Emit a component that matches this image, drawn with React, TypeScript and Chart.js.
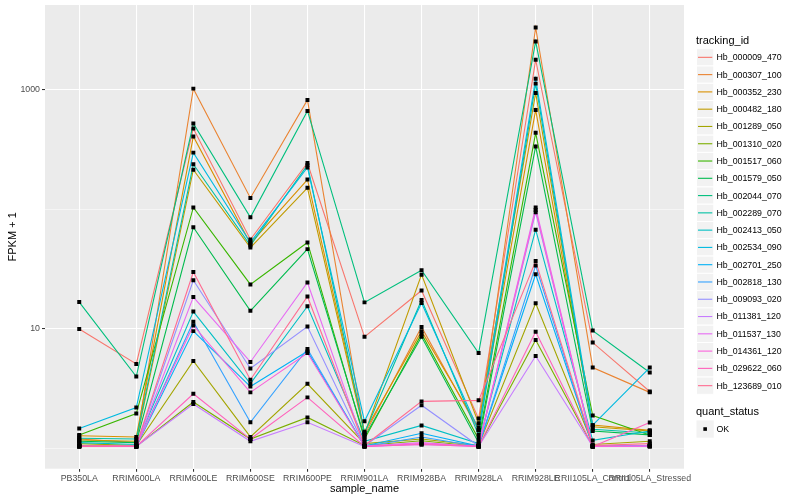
import React, { useEffect, useRef } from "react";
import { Chart, registerables } from "chart.js";
Chart.register(...registerables);

const FONT = '"Liberation Sans", Arial, Helvetica, sans-serif';

const categories = [
  "PB350LA", "RRIM600LA", "RRIM600LE", "RRIM600SE", "RRIM600PE", "RRIM901LA",
  "RRIM928BA", "RRIM928LA", "RRIM928LE", "RRII105LA_Control", "RRII105LA_Stressed",
];

const trackingIds = [
  "Hb_000009_470", "Hb_000307_100", "Hb_000352_230", "Hb_000482_180", "Hb_001289_050",
  "Hb_001310_020", "Hb_001517_060", "Hb_001579_050", "Hb_002044_070", "Hb_002289_070",
  "Hb_002413_050", "Hb_002534_090", "Hb_002701_250", "Hb_002818_130", "Hb_009093_020",
  "Hb_011381_120", "Hb_011537_130", "Hb_014361_120", "Hb_029622_060", "Hb_123689_010",
];

const seriesColors = [
  "#F8766D", "#EA8331", "#D89000", "#C09B00", "#A3A500", "#7CAE00", "#39B600", "#00BB4E",
  "#00BF7D", "#00C1A3", "#00BFC4", "#00BAE0", "#00B0F6", "#35A2FF", "#9590FF", "#C77CFF",
  "#E76BF3", "#FA62DB", "#FF62BC", "#FF6C91",
];

// FPKM + 1 values, in the order of `categories`
const hb000009_470 = [10, 5.1, 476, 56, 245, 8.6, 21, 1.78, 1790, 7.7, 3.0];
const hb000307_100 = [1.2, 1.12, 1026, 125, 826, 1.3, 10.4, 1.42, 3330, 4.76, 2.95];
const hb000352_230 = [1.28, 1.25, 408, 52, 178, 1.38, 9.6, 1.5, 681, 1.57, 1.42];
const hb000482_180 = [1.18, 1.15, 215, 48, 152, 1.32, 28.5, 1.63, 944, 1.52, 1.4];
const hb001289_050 = [1.1, 1.06, 5.4, 1.25, 3.48, 1.1, 1.2, 1.06, 16.4, 1.08, 1.15];
const hb001310_020 = [1.06, 1.04, 2.45, 1.2, 1.82, 1.06, 1.16, 1.04, 8.1, 1.04, 1.06];
const hb001517_060 = [1.3, 1.96, 104, 23.6, 53, 1.2, 9.1, 1.2, 438, 1.89, 1.3];
const hb001579_050 = [1.15, 1.12, 71, 14.2, 46.6, 1.25, 8.6, 1.12, 337, 1.4, 1.3];
const hb002044_070 = [16.8, 4.0, 524, 86, 668, 16.7, 31, 6.3, 2545, 9.7, 4.33];
const hb002289_070 = [1.22, 1.2, 239, 50, 235, 1.35, 17.5, 1.3, 1130, 1.45, 1.35];
const hb002413_050 = [1.12, 1.08, 14, 3.5, 15.5, 1.15, 1.56, 1.1, 67.8, 1.17, 1.4];
const hb002534_090 = [1.47, 2.2, 299, 53, 225, 1.69, 16.5, 1.42, 1242, 1.57, 4.76];
const hb002701_250 = [1.05, 1.04, 9.6, 3.3, 6.5, 1.05, 1.34, 1.05, 28.7, 1.05, 1.06];
const hb002818_130 = [1.04, 1.04, 11.5, 1.66, 6.8, 1.04, 1.25, 1.04, 34, 1.04, 1.04];
const hb009093_020 = [1.05, 1.05, 25.6, 4.67, 10.5, 1.05, 2.3, 1.05, 95, 1.05, 1.05];
const hb011381_120 = [1.04, 1.04, 2.36, 1.15, 1.66, 1.04, 1.08, 1.04, 5.95, 1.04, 1.04];
const hb011537_130 = [1.05, 1.04, 18.5, 5.3, 24.5, 1.05, 1.12, 1.04, 104, 1.05, 1.05];
const hb014361_120 = [1.04, 1.05, 10.7, 2.95, 6.3, 1.04, 1.1, 1.05, 99, 1.04, 1.05];
const hb029622_060 = [1.04, 1.04, 2.87, 1.2, 2.68, 1.04, 1.08, 1.04, 9.5, 1.04, 1.65];
const hb123689_010 = [1.05, 1.06, 30, 3.76, 18.7, 1.06, 2.48, 2.53, 37, 1.06, 1.1];

const seriesValues = [
  hb000009_470, hb000307_100, hb000352_230, hb000482_180, hb001289_050,
  hb001310_020, hb001517_060, hb001579_050, hb002044_070, hb002289_070,
  hb002413_050, hb002534_090, hb002701_250, hb002818_130, hb009093_020,
  hb011381_120, hb011537_130, hb014361_120, hb029622_060, hb123689_010,
];

const yTicks = [1, 10, 100, 1000];
const yLabeled = [10, 1000];

const decorPlugin = {
  id: "decor",
  beforeDraw(chart: any) {
    const { ctx, chartArea: a } = chart;
    ctx.save();
    ctx.fillStyle = "#EBEBEB";
    ctx.fillRect(a.left, a.top, a.right - a.left, a.bottom - a.top);
    ctx.restore();
  },
  afterDraw(chart: any) {
    const { ctx, chartArea: a } = chart;
    ctx.save();
    ctx.fillStyle = "#000000";
    ctx.font = `11px ${FONT}`;
    ctx.textAlign = "center";
    ctx.textBaseline = "middle";
    ctx.fillText("sample_name", (a.left + a.right) / 2, 488.5);
    ctx.save();
    ctx.translate(12.5, (a.top + a.bottom) / 2);
    ctx.rotate(-Math.PI / 2);
    ctx.fillText("FPKM + 1", 0, 0);
    ctx.restore();

    // legend: tracking_id
    const kx = 696.5;
    const ks = 17.28;
    ctx.textAlign = "left";
    ctx.font = `11px ${FONT}`;
    ctx.fillText("tracking_id", 696, 40.5);
    ctx.font = `8.8px ${FONT}`;
    const lineSets = chart.data.datasets.filter((d: any) => d.isSeries);
    lineSets.forEach((d: any, i: number) => {
      const y0 = 48.7 + ks * i;
      ctx.fillStyle = "#F2F2F2";
      ctx.fillRect(kx, y0, ks, ks);
      ctx.strokeStyle = "#FFFFFF";
      ctx.lineWidth = 1;
      ctx.strokeRect(kx, y0, ks, ks);
      ctx.strokeStyle = d.borderColor;
      ctx.lineWidth = 1.1;
      ctx.beginPath();
      ctx.moveTo(kx + 1.5, y0 + ks / 2);
      ctx.lineTo(kx + ks - 1.5, y0 + ks / 2);
      ctx.stroke();
      ctx.fillStyle = "#000000";
      ctx.fillText(d.label, 716.5, y0 + ks / 2 + 0.5);
    });

    // legend: quant_status
    ctx.font = `11px ${FONT}`;
    ctx.fillText("quant_status", 696, 411.7);
    const qy = 420.4;
    ctx.fillStyle = "#F2F2F2";
    ctx.fillRect(kx, qy, ks, ks);
    ctx.fillStyle = "#000000";
    ctx.fillRect(kx + ks / 2 - 1.8, qy + ks / 2 - 1.8, 3.6, 3.6);
    ctx.font = `8.8px ${FONT}`;
    ctx.fillText("OK", 716.5, qy + ks / 2 + 0.5);
    ctx.restore();
  },
};

export default function App() {
  const ref = useRef<HTMLCanvasElement | null>(null);

  useEffect(() => {
    document.body.style.margin = "0";
    const canvas = ref.current;
    if (!canvas) return;

    const lineDatasets = seriesValues.map((vals, i) => ({
      type: "line" as const,
      label: trackingIds[i],
      isSeries: true,
      data: vals.map((v, j) => ({ x: j, y: v })),
      borderColor: seriesColors[i],
      backgroundColor: seriesColors[i],
      borderWidth: 1.1,
      pointRadius: 0,
      fill: false,
      tension: 0,
      order: seriesValues.length - i,
    }));

    const pointDataset = {
      type: "line" as const,
      label: "OK",
      isSeries: false,
      data: seriesValues.flatMap((vals) => vals.map((v, j) => ({ x: j, y: v }))),
      showLine: false,
      pointStyle: "rect" as const,
      pointRadius: 2.8,
      pointBorderWidth: 0,
      pointBackgroundColor: "#000000",
      borderColor: "#000000",
      backgroundColor: "#000000",
      order: -1,
    };

    const tickFont = { family: FONT, size: 8.8 };

    const chart = new Chart(canvas, {
      type: "line",
      data: { datasets: [pointDataset, ...lineDatasets] as any },
      options: {
        animation: false,
        responsive: false,
        layout: { padding: { top: 5, right: 116, left: 0, bottom: 0 } },
        plugins: { legend: { display: false }, tooltip: { enabled: false } },
        scales: {
          x: {
            type: "linear",
            bounds: "data",
            min: -0.6,
            max: categories.length - 1 + 0.6,
            afterBuildTicks: (s: any) => {
              s.ticks = categories.map((_, i) => ({ value: i }));
            },
            afterFit: (s: any) => {
              s.height = 31.3;
              s.paddingLeft = 0;
              s.paddingRight = 0;
            },
            ticks: {
              autoSkip: false,
              maxRotation: 0,
              minRotation: 0,
              padding: 1.5,
              color: "#4D4D4D",
              font: tickFont,
              callback: (v: any) => categories[v as number] ?? "",
            },
            grid: {
              color: "#FFFFFF",
              lineWidth: 1.07,
              tickLength: 3,
              tickColor: "#333333",
              drawTicks: true,
            },
            border: { display: false },
          },
          y: {
            type: "logarithmic",
            bounds: "data",
            min: 0.678,
            max: 5140,
            afterBuildTicks: (s: any) => {
              s.ticks = yTicks.map((v) => ({ value: v }));
            },
            afterFit: (s: any) => {
              s.width = 45;
              s.paddingTop = 0;
              s.paddingBottom = 0;
            },
            ticks: {
              padding: 2,
              color: "#4D4D4D",
              font: tickFont,
              callback: (v: any) => (yLabeled.includes(v as number) ? String(v) : ""),
            },
            grid: {
              color: "#FFFFFF",
              lineWidth: (c: any) => (yLabeled.includes(c.tick?.value) ? 1.07 : 0.53),
              tickLength: 3,
              tickColor: (c: any) =>
                yLabeled.includes(c.tick?.value) ? "#333333" : "rgba(0,0,0,0)",
              drawTicks: true,
            },
            border: { display: false },
          },
        },
      } as any,
      plugins: [decorPlugin],
    });

    return () => chart.destroy();
  }, []);

  return (
    <div style={{ position: "absolute", left: 0, top: 0, width: 800, height: 500 }}>
      <canvas ref={ref} width={800} height={500} style={{ display: "block" }} />
    </div>
  );
}
